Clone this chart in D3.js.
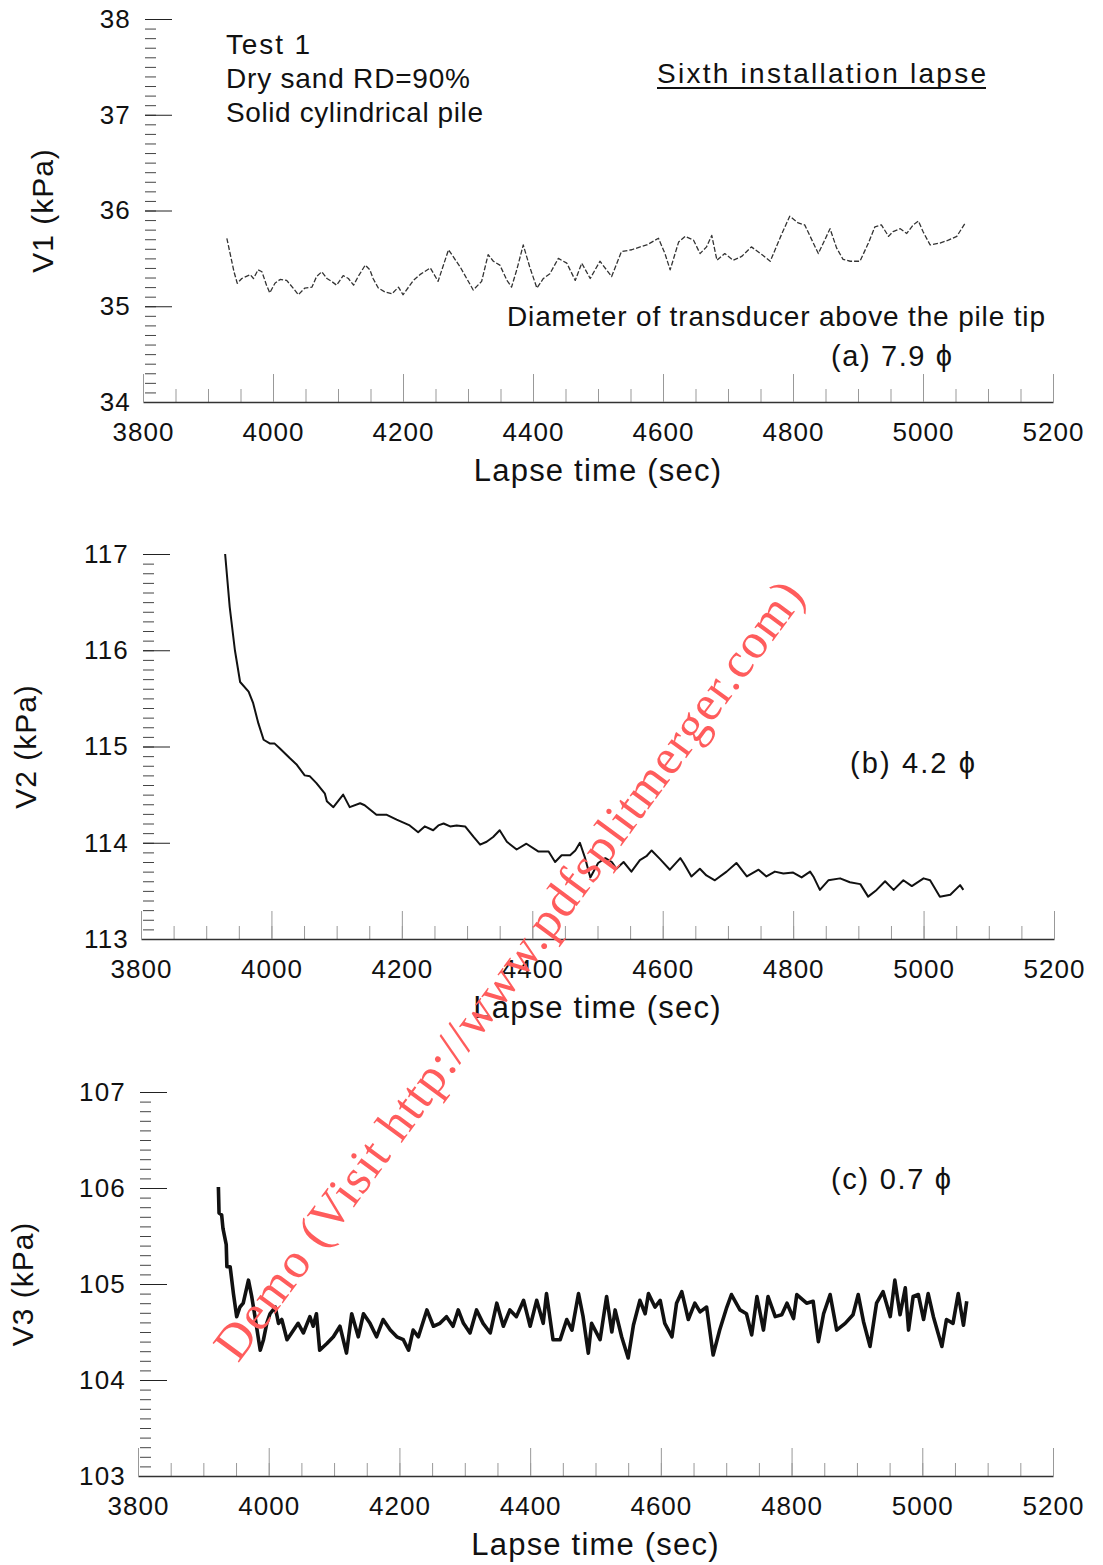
<!DOCTYPE html>
<meta charset="utf-8">
<style>
body { margin: 0; background: #fff; }
svg text { font-family: "Liberation Sans", Arial, sans-serif; fill: #111; }
.tick line { stroke: #222; }
.minor .tick line { stroke: #444; }
.xax .tick line { stroke: #999; }
.xax .domain { stroke: #333; stroke-width: 1.5; }
</style>
<body>
<script src="https://cdn.jsdelivr.net/npm/d3@7"></script>
<script>

// panel (a) V1, sixth installation lapse
var tA = [3929,3940,3945,3952,3965,3970,3977,3983,3990,3995,4003,4011,4021,4031,4039,4049,4060,4067,4075,4083,4090,4098,4108,4116,4124,4131,4142,4149,4154,4162,4172,4183,4193,4200,4216,4226,4242,4254,4270,4277,4288,4298,4308,4321,4331,4339,4349,4360,4367,4375,4385,4395,4406,4416,4426,4439,4452,4465,4475,4488,4503,4521,4536,4552,4565,4575,4593,4603,4611,4624,4634,4647,4657,4667,4675,4683,4695,4708,4721,4736,4752,4765,4783,4795,4808,4818,4839,4857,4867,4877,4888,4903,4916,4926,4936,4947,4954,4965,4975,4985,4993,5000,5011,5026,5039,5052,5065];
var vA = [35.71,35.36,35.24,35.29,35.33,35.29,35.38,35.36,35.22,35.14,35.24,35.28,35.27,35.19,35.12,35.19,35.20,35.31,35.36,35.29,35.26,35.22,35.32,35.29,35.22,35.31,35.43,35.38,35.29,35.19,35.15,35.13,35.20,35.12,35.27,35.33,35.40,35.26,35.59,35.52,35.41,35.29,35.17,35.26,35.54,35.47,35.43,35.27,35.20,35.38,35.64,35.41,35.19,35.29,35.34,35.50,35.45,35.27,35.45,35.29,35.47,35.31,35.57,35.59,35.62,35.64,35.71,35.55,35.38,35.67,35.73,35.69,35.55,35.62,35.74,35.48,35.55,35.48,35.52,35.62,35.54,35.47,35.76,35.94,35.87,35.85,35.55,35.81,35.61,35.49,35.47,35.47,35.66,35.83,35.85,35.73,35.78,35.81,35.76,35.85,35.89,35.78,35.64,35.66,35.69,35.73,35.87];

// panel (b) V2
var tB = [3929,3936,3944,3952,3965,3972,3980,3988,3998,4005,4013,4028,4039,4051,4059,4069,4082,4085,4095,4110,4120,4136,4143,4161,4177,4192,4212,4225,4235,4248,4256,4264,4274,4284,4297,4310,4320,4330,4340,4350,4361,4376,4391,4409,4425,4435,4445,4458,4466,4473,4481,4489,4501,4512,4522,4529,4540,4552,4565,4575,4583,4596,4611,4627,4632,4644,4657,4667,4680,4698,4713,4729,4747,4759,4772,4785,4800,4813,4826,4831,4841,4854,4872,4887,4903,4915,4928,4941,4954,4969,4982,5000,5010,5025,5041,5056,5061];
var vB = [117.0,116.45,116.0,115.67,115.57,115.45,115.24,115.07,115.03,115.03,114.98,114.88,114.81,114.70,114.69,114.62,114.51,114.43,114.37,114.50,114.37,114.41,114.39,114.29,114.29,114.24,114.18,114.11,114.17,114.13,114.18,114.20,114.17,114.18,114.17,114.06,113.98,114.01,114.06,114.13,114.01,113.93,113.99,113.91,113.91,113.80,113.87,113.87,113.92,114.00,113.84,113.64,113.79,113.84,113.80,113.73,113.80,113.70,113.82,113.86,113.92,113.83,113.72,113.84,113.79,113.65,113.73,113.66,113.61,113.70,113.79,113.65,113.72,113.65,113.70,113.68,113.69,113.64,113.70,113.65,113.51,113.61,113.63,113.59,113.57,113.44,113.51,113.60,113.51,113.61,113.55,113.63,113.61,113.44,113.46,113.56,113.51];

// panel (c) V3
var tC = [3923,3924,3928,3930,3935,3936,3941,3946,3951,3956,3961,3969,3974,3979,3987,3992,3997,4002,4010,4015,4020,4028,4035,4045,4053,4063,4068,4073,4078,4089,4099,4109,4119,4127,4137,4145,4155,4165,4175,4186,4196,4206,4214,4221,4229,4242,4252,4262,4272,4282,4290,4298,4308,4318,4328,4339,4349,4359,4369,4379,4390,4400,4410,4420,4425,4435,4446,4456,4464,4474,4481,4489,4494,4507,4517,4525,4530,4540,4550,4558,4568,4576,4581,4591,4599,4606,4617,4624,4632,4642,4652,4660,4670,4680,4690,4701,4708,4721,4731,4739,4747,4757,4764,4775,4785,4793,4803,4808,4823,4833,4841,4849,4859,4869,4882,4894,4902,4910,4920,4930,4940,4951,4958,4966,4974,4979,4986,4994,5002,5009,5017,5030,5037,5047,5055,5063,5068];
var vC = [106.01,105.74,105.72,105.58,105.41,105.18,105.18,104.90,104.66,104.76,104.80,105.04,104.87,104.66,104.31,104.42,104.59,104.69,104.76,104.59,104.63,104.42,104.49,104.59,104.49,104.66,104.56,104.69,104.31,104.38,104.45,104.56,104.28,104.69,104.45,104.69,104.59,104.45,104.63,104.52,104.45,104.42,104.31,104.52,104.45,104.73,104.56,104.59,104.66,104.56,104.73,104.59,104.49,104.73,104.59,104.49,104.80,104.56,104.73,104.66,104.83,104.56,104.83,104.59,104.90,104.42,104.42,104.63,104.52,104.90,104.66,104.28,104.59,104.42,104.87,104.50,104.73,104.45,104.23,104.57,104.83,104.69,104.90,104.76,104.83,104.59,104.45,104.80,104.92,104.63,104.80,104.71,104.76,104.26,104.52,104.76,104.89,104.73,104.69,104.47,104.87,104.52,104.87,104.66,104.68,104.80,104.64,104.89,104.80,104.82,104.40,104.69,104.89,104.52,104.59,104.68,104.89,104.61,104.35,104.80,104.92,104.66,105.04,104.68,104.96,104.52,104.87,104.89,104.63,104.90,104.66,104.35,104.63,104.59,104.90,104.57,104.82];

var xTicks = [3800, 4000, 4200, 4400, 4600, 4800, 5000, 5200];

var svg = d3.select("body").append("svg")
    .attr("width", 1103)
    .attr("height", 1565);

function panel(o) {
  var x = d3.scaleLinear().domain([3800, 5200]).range([o.x0, o.x1]);
  var y = d3.scaleLinear().domain(o.yDom).range([o.yBot, o.yTop]);
  var g = svg.append("g");

  // y minor ticks (0.1 step), pointing right
  var minor = d3.range(o.yDom[0] * 10, o.yDom[1] * 10 + 1).map(function(d) { return d / 10; });
  g.append("g").attr("class", "minor")
    .attr("transform", "translate(" + (o.x0 + 2) + ",0)")
    .call(d3.axisLeft(y).tickValues(minor).tickSize(-11).tickFormat(""))
    .call(function(s) { s.select(".domain").remove(); });

  // y major ticks
  g.append("g")
    .attr("transform", "translate(" + (o.x0 + 2) + ",0)")
    .call(d3.axisLeft(y).tickValues(d3.range(o.yDom[0], o.yDom[1] + 1)).tickSize(-27).tickPadding(14).tickFormat(d3.format("d")))
    .call(function(s) {
      s.select(".domain").remove();
      s.selectAll("text").style("font-size", "26px").style("letter-spacing", "1.2px").attr("fill", "#111");
    });

  // x minor ticks every 50, upward
  g.append("g").attr("class", "xax")
    .attr("transform", "translate(0," + o.yBot + ")")
    .call(d3.axisBottom(x).tickValues(d3.range(3850, 5200, 50)).tickSize(-13).tickFormat(""))
    .call(function(s) { s.select(".domain").remove(); });

  g.append("g").attr("class", "xax")
    .attr("transform", "translate(0," + o.yBot + ")")
    .call(d3.axisBottom(x).tickValues(xTicks).tickSizeInner(-28).tickSizeOuter(0).tickPadding(21).tickFormat(d3.format("d")))
    .call(function(s) {
      s.selectAll("text").style("font-size", "26px").style("letter-spacing", "1px").attr("fill", "#111");
    });

  g.append("text")
    .attr("x", (o.x0 + o.x1) / 2)
    .attr("y", o.yBot + 79)
    .attr("text-anchor", "middle")
    .style("font-size", "31px")
    .style("letter-spacing", "1.2px")
    .text("Lapse time (sec)");

  g.append("text")
    .attr("transform", "translate(" + o.labX + "," + ((o.yTop + o.yBot) / 2) + ") rotate(-90)")
    .attr("text-anchor", "middle")
    .attr("dy", "0.35em")
    .style("font-size", "30px")
    .style("letter-spacing", "1px")
    .text(o.yLabel);

  var line = d3.line()
    .x(function(d) { return x(d[0]); })
    .y(function(d) { return y(d[1]); });

  g.append("path")
    .datum(d3.zip(o.t, o.v))
    .attr("d", line)
    .attr("fill", "none")
    .attr("stroke", o.col || "#111")
    .attr("stroke-width", o.sw)
    .attr("stroke-linejoin", "round")
    .attr("stroke-dasharray", o.dash || null);

  g.append("text")
    .attr("x", o.tag[0]).attr("y", o.tag[1])
    .attr("textLength", o.tag[2]).attr("lengthAdjust", "spacing")
    .style("font-size", "29px")
    .text(o.tagText);

  return g;
}

panel({ x0: 143, x1: 1053, yDom: [34, 38], yTop: 19, yBot: 402, t: tA, v: vA, sw: 1.3, dash: "5,2", col: "#333",
        yLabel: "V1 (kPa)", labX: 42, tag: [831, 366, 121], tagText: "(a) 7.9 \u03D5" });
panel({ x0: 141, x1: 1054, yDom: [113, 117], yTop: 554, yBot: 939, t: tB, v: vB, sw: 2,
        yLabel: "V2 (kPa)", labX: 25, tag: [850, 773, 125], tagText: "(b) 4.2 \u03D5" });
panel({ x0: 138, x1: 1053, yDom: [103, 107], yTop: 1092, yBot: 1476, t: tC, v: vC, sw: 3.6,
        yLabel: "V3 (kPa)", labX: 22, tag: [831, 1189, 120], tagText: "(c) 0.7 \u03D5" });

// annotations of panel (a)
var notes = [["Test 1", 226, 54, 84], ["Dry sand RD=90%", 226, 88, 244], ["Solid cylindrical pile", 226, 122, 257],
             ["Sixth installation lapse", 657, 83, 329], ["Diameter of transducer above the pile tip", 507, 326, 538]];
svg.selectAll(".note").data(notes).enter().append("text")
  .attr("class", "note")
  .attr("x", function(d) { return d[1]; })
  .attr("y", function(d) { return d[2]; })
  .attr("textLength", function(d) { return d[3]; })
  .attr("lengthAdjust", "spacing")
  .style("font-size", "28px")
  .text(function(d) { return d[0]; });

svg.append("line")
  .attr("x1", 657).attr("x2", 986).attr("y1", 88).attr("y2", 88)
  .attr("stroke", "#111").attr("stroke-width", 2);

// watermark
svg.append("text")
  .attr("transform", "translate(522,980) rotate(-53.5)")
  .attr("text-anchor", "middle")
  .attr("textLength", 955).attr("lengthAdjust", "spacing")
  .style("font-family", "'Liberation Serif', 'Times New Roman', serif")
  .style("font-size", "50px")
  .style("fill", "#ff5c5c")
  .text("Demo (Visit http://www.pdfsplitmerger.com)");

</script>
</body>
